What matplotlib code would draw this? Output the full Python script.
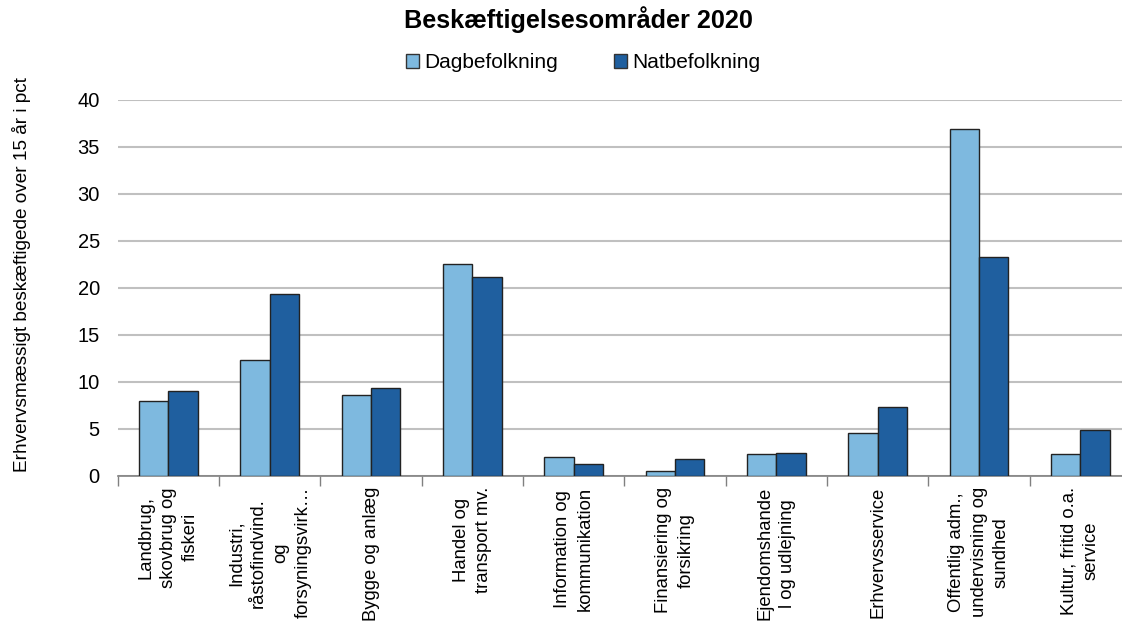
import matplotlib.pyplot as plt
from matplotlib.patches import Patch
import numpy as np

plt.rcParams['font.family'] = ['Liberation Sans', 'DejaVu Sans']

categories = [
    'Landbrug,\nskovbrug og\nfiskeri',
    'Industri,\nråstofindvind.\nog\nforsyningsvirk…',
    'Bygge og anlæg',
    'Handel og\ntransport mv.',
    'Information og\nkommunikation',
    'Finansiering og\nforsikring',
    'Ejendomshande\nl og udlejning',
    'Erhvervsservice',
    'Offentlig adm.,\nundervisning og\nsundhed',
    'Kultur, fritid o.a.\nservice',
]
dagbefolkning = [8.0, 12.3, 8.6, 22.6, 2.0, 0.55, 2.3, 4.6, 36.9, 2.3]
natbefolkning = [9.0, 19.4, 9.4, 21.2, 1.3, 1.8, 2.45, 7.35, 23.3, 4.9]
series_names = ['Dagbefolkning', 'Natbefolkning']
colors = ['#7EB9DF', '#1F5F9F']

fig = plt.figure(figsize=(11.22, 6.21), dpi=100)
ax = fig.add_axes([0.105, 0.2335, 0.903, 0.6055])

x = np.arange(len(categories))
w = 0.29
ax.bar(x - w / 2, dagbefolkning, w, color=colors[0], edgecolor='#222222', linewidth=1, zorder=3)
ax.bar(x + w / 2, natbefolkning, w, color=colors[1], edgecolor='#222222', linewidth=1, zorder=3)

ax.set_xlim(-0.5, len(categories) - 0.5)
ax.set_ylim(0, 40)
ax.set_yticks(range(0, 41, 5))
ax.yaxis.grid(True, color='#c0c0c0', linewidth=1.5, zorder=0)
ax.set_axisbelow(True)

for s in ['top', 'right', 'left']:
    ax.spines[s].set_visible(False)
ax.spines['bottom'].set_color('#808080')
ax.spines['bottom'].set_linewidth(1.2)

ax.set_xticks(x)
ax.set_xticklabels(categories, rotation=90, fontsize=13.3, linespacing=1.4)
for lbl in ax.get_xticklabels():
    lbl.set_multialignment('center')
ax.tick_params(axis='x', which='major', length=0, pad=8)
ax.set_xticks(np.arange(-0.5, len(categories), 1), minor=True)
ax.tick_params(axis='x', which='minor', length=7, width=1, color='#808080', direction='out')
ax.tick_params(axis='y', length=0, labelsize=14.5, pad=13)

fig.text(22 / 1122, 1 - 275 / 621, 'Erhvervsmæssigt beskæftigede over 15 år i pct',
         rotation=90, ha='center', va='center', fontsize=13.7)
fig.text(578 / 1122, 1 - 20 / 621, 'Beskæftigelsesområder 2020',
         ha='center', va='center', fontsize=18.2, fontweight='bold')

handles = [Patch(facecolor=c, edgecolor='#333333', linewidth=1) for c in colors]
fig.legend(handles, series_names, loc='center', bbox_to_anchor=(583 / 1122, 1 - 63 / 621),
           ncol=2, frameon=False, fontsize=15, handlelength=0.63, handleheight=0.63,
           handletextpad=0.25, columnspacing=2.7, borderpad=0)

fig.savefig('out.png', dpi=100)
